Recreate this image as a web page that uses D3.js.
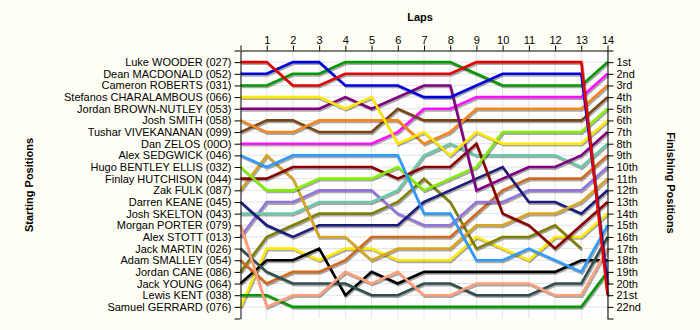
<!DOCTYPE html>
<html>
<head>
<meta charset="utf-8">
<script src="https://cdn.jsdelivr.net/npm/d3@7"></script>
<style>
  html, body { margin: 0; padding: 0; background: #fffef4; }
  svg { display: block; font-family: "Liberation Sans", Arial, sans-serif; }
</style>
</head>
<body>
<svg id="chart" width="700" height="330"></svg>
<script>
// Drivers in grid order (starting position 1..22)
const drivers = [
  "Luke WOODER (027)", "Dean MACDONALD (052)", "Cameron ROBERTS (031)",
  "Stefanos CHARALAMBOUS (066)", "Jordan BROWN-NUTLEY (053)", "Josh SMITH (058)",
  "Tushar VIVEKANANAN (099)", "Dan ZELOS (00O)", "Alex SEDGWICK (046)",
  "Hugo BENTLEY ELLIS (032)", "Finlay HUTCHISON (044)", "Zak FULK (087)",
  "Darren KEANE (045)", "Josh SKELTON (043)", "Morgan PORTER (079)",
  "Alex STOTT (013)", "Jack MARTIN (026)", "Adam SMALLEY (054)",
  "Jordan CANE (086)", "Jack YOUNG (064)", "Lewis KENT (038)",
  "Samuel GERRARD (076)"
];

// One colour per driver, same order as above
const lineColours = [
  "#e60000", "#0000e0", "#009a00", "#ffe800", "#800080", "#f7861c",
  "#7b4414", "#ff10ff", "#2f9bff", "#84f000", "#8b0000", "#d9a521",
  "#1c1c7c", "#6ccaa9", "#ffa07a", "#9474dc", "#2f4f4f", "#d2691e",
  "#808000", "#000000", "#009a00", "#ffe800"
];

const laps = d3.range(0, 15);
const lapTicks = [1, 2, 3, 4, 5, 6, 7, 8, 9, 10, 11, 12, 13, 14];
const finishLabels = [
  "1st", "2nd", "3rd", "4th", "5th", "6th", "7th", "8th", "9th", "10th", "11th",
  "12th", "13th", "14th", "15th", "16th", "17th", "18th", "19th", "20th", "21st", "22nd"
];

// Running order at the end of each lap, listed by starting position of each car
const lap0  = [1,2,3,4,5,6,7,8,9,10,11,12,13,14,15,16,17,18,19,20,21,22];
const lap1  = [1,2,3,4,5,7,6,8,12,9,11,10,16,14,13,19,22,20,17,18,21,15];
const lap2  = [2,3,1,4,5,7,6,8,9,11,12,10,16,14,19,13,22,20,18,17,15,21];
const lap3  = [2,3,1,4,5,6,7,8,9,11,10,16,14,19,13,12,20,22,18,17,15,21];
const lap4  = [3,1,2,5,4,6,7,8,9,11,10,16,14,19,13,12,22,18,15,17,20,21];
const lap5  = [3,1,2,4,5,6,7,8,9,11,10,16,14,19,13,18,22,12,20,15,17,21];
const lap6  = [3,1,2,5,7,6,8,4,9,10,11,14,19,16,13,18,12,22,15,20,17,21];
const lap7  = [3,1,5,2,8,7,4,6,14,11,19,10,13,9,16,18,12,22,20,17,15,21];
const lap8  = [3,1,5,2,8,7,6,14,4,11,10,13,19,9,16,18,12,22,20,17,15,21];
const lap9  = [1,3,2,8,6,7,4,11,14,10,13,5,16,18,12,22,19,9,20,15,17,21];
const lap10 = [1,2,3,8,6,7,10,4,14,13,5,18,16,11,12,19,22,9,20,15,17,21];
const lap11 = [1,2,3,8,6,7,10,4,14,5,18,16,13,12,11,19,9,22,20,15,17,21];
const lap12 = [1,2,3,8,6,7,10,4,14,5,18,16,13,12,19,22,11,9,20,17,15,21];
const lap13 = [1,2,3,8,6,7,10,4,5,14,18,16,12,13,11,22,19,20,9,17,15,21];
const lap14 = [3,8,6,7,10,4,5,14,18,16,12,13,11,22,9,17,15,20,21,2,1];

const runningOrder = [lap0, lap1, lap2, lap3, lap4, lap5, lap6, lap7,
                      lap8, lap9, lap10, lap11, lap12, lap13, lap14];

// Per-driver position for every lap (null once a car is no longer running)
const tracks = drivers.map((name, i) => ({
  name,
  colour: lineColours[i],
  points: laps.map(l => {
    const idx = runningOrder[l].indexOf(i + 1);
    return { lap: l, pos: idx < 0 ? null : idx + 1 };
  })
}));

const svg = d3.select("#chart");
const x = d3.scaleLinear().domain([0, 14]).range([240.5, 607.5]);
const y = d3.scaleLinear().domain([0, 23]).range([50.5, 318.5]);

// plot background
svg.append("rect")
  .attr("x", x(0)).attr("y", y(0))
  .attr("width", x(14) - x(0)).attr("height", y(23) - y(0))
  .attr("fill", "#ffffff");

// grid
const grid = svg.append("g").attr("stroke", "#e3e3e3").attr("stroke-width", 1);
grid.selectAll("line.v").data(lapTicks).join("line")
  .attr("x1", d => x(d)).attr("x2", d => x(d))
  .attr("y1", y(0)).attr("y2", y(23));
grid.selectAll("line.h").data(d3.range(1, 23)).join("line")
  .attr("x1", x(0)).attr("x2", x(14))
  .attr("y1", d => y(d)).attr("y2", d => y(d));

// position lines, leaders drawn last so they sit on top
const line = d3.line()
  .defined(d => d.pos !== null)
  .x(d => x(d.lap))
  .y(d => y(d.pos));

const lines = svg.append("g").attr("fill", "none").attr("stroke-linejoin", "miter");
tracks.slice().reverse().forEach(t => {
  lines.append("path")
    .attr("d", line(t.points))
    .attr("transform", "translate(1,1.6)")
    .attr("stroke", "rgba(40,40,40,0.4)")
    .attr("stroke-width", 2.6);
  lines.append("path")
    .attr("d", line(t.points))
    .attr("stroke", t.colour)
    .attr("stroke-width", 2.6);
});

function styleAxis(g) {
  g.attr("font-family", "'Liberation Sans', Arial, sans-serif").attr("font-size", 11);
  g.selectAll("text").attr("fill", "#000");
  g.selectAll("line, path").attr("stroke", "#000");
}

// starting grid on the left
svg.append("g")
  .attr("transform", `translate(${x(0)},0)`)
  .call(d3.axisLeft(y).tickValues(d3.range(0, 24)).tickSize(6).tickSizeOuter(0).tickPadding(3)
    .tickFormat(d => (d >= 1 && d <= drivers.length) ? drivers[d - 1] : ""))
  .call(styleAxis);

// finishing positions on the right
svg.append("g")
  .attr("transform", `translate(${x(14)},0)`)
  .call(d3.axisRight(y).tickValues(d3.range(0, 24)).tickSize(6).tickSizeOuter(0).tickPadding(3)
    .tickFormat(d => (d >= 1 && d <= finishLabels.length) ? finishLabels[d - 1] : ""))
  .call(styleAxis);

// lap numbers along the top
svg.append("g")
  .attr("transform", `translate(0,${y(0)})`)
  .call(d3.axisTop(x).tickValues(laps).tickSize(5).tickSizeOuter(0).tickPadding(2)
    .tickFormat(d => lapTicks.includes(d) ? d : ""))
  .call(styleAxis);

// titles
svg.append("text")
  .attr("x", 420).attr("y", 21)
  .attr("text-anchor", "middle")
  .attr("font-size", 11).attr("font-weight", "bold")
  .text("Laps");

svg.append("text")
  .attr("transform", "translate(33,185) rotate(-90)")
  .attr("text-anchor", "middle")
  .attr("font-size", 11).attr("font-weight", "bold")
  .text("Starting Positions");

svg.append("text")
  .attr("transform", "translate(667,183) rotate(90)")
  .attr("text-anchor", "middle")
  .attr("font-size", 11).attr("font-weight", "bold")
  .text("Finishing Positions");
</script>
</body>
</html>
